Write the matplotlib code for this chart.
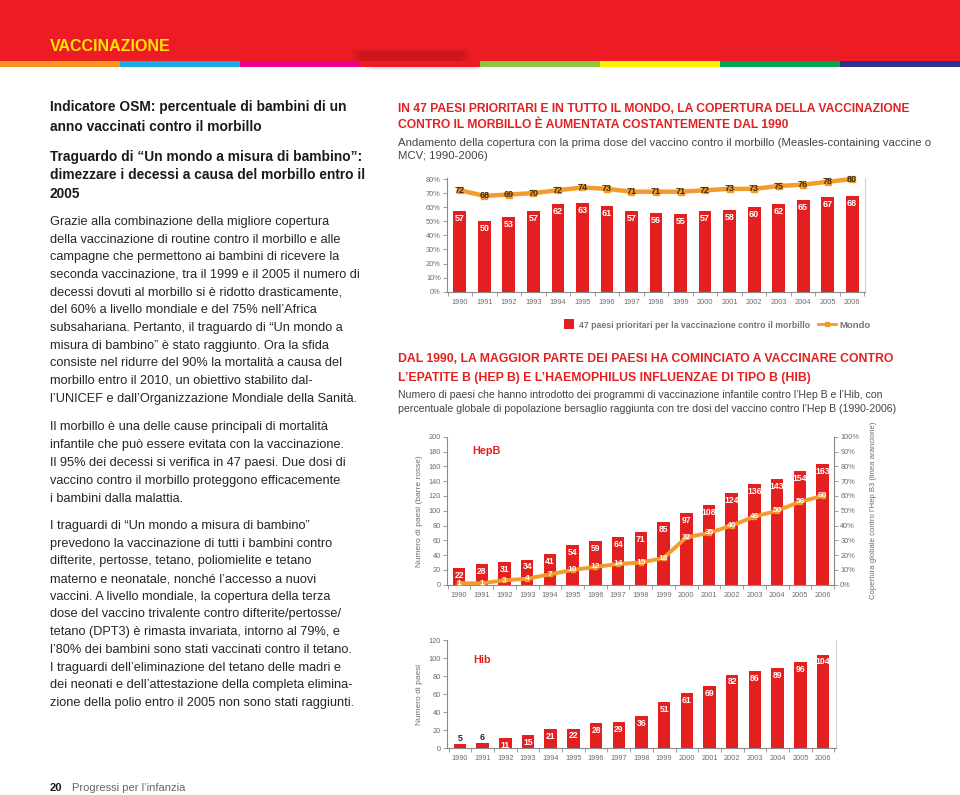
import matplotlib
matplotlib.use("Agg")
import matplotlib.pyplot as plt
from matplotlib.patches import Rectangle
from matplotlib.lines import Line2D

plt.rcParams['font.family'] = ['Liberation Sans', 'DejaVu Sans']
NARROW = ['Liberation Sans Narrow', 'Liberation Sans', 'DejaVu Sans']

# ── data ───────────────────────────────────────────────────────────────
years = ['1990', '1991', '1992', '1993', '1994', '1995', '1996', '1997', '1998',
         '1999', '2000', '2001', '2002', '2003', '2004', '2005', '2006']
measles_47 = [57, 50, 53, 57, 62, 63, 61, 57, 56, 55, 57, 58, 60, 62, 65, 67, 68]
measles_world = [72, 68, 69, 70, 72, 74, 73, 71, 71, 71, 72, 73, 73, 75, 76, 78, 80]
hepb_countries = [22, 28, 31, 34, 41, 54, 59, 64, 71, 85, 97, 108, 124, 136, 143, 154, 163]
hepb3_coverage = [1, 1, 3, 4, 7, 10, 12, 14, 15, 18, 32, 35, 40, 46, 50, 56, 60]
hib_countries = [5, 6, 11, 15, 21, 22, 28, 29, 36, 51, 61, 69, 82, 86, 89, 96, 104]

RED = '#E3201F'
ORANGE = '#F39C2C'
GRAY = '#6d6d6d'
TEXT = '#262626'

W, H = 960, 795
fig = plt.figure(figsize=(W / 100, H / 100), dpi=100)


def fx(x):
    return x / W


def fy(y):
    return 1 - y / H


def put(x, y, s, **kw):
    kw.setdefault('va', 'baseline')
    fig.text(fx(x), fy(y), s, **kw)


def box(x0, y0, x1, y1, color, **kw):
    fig.patches.append(Rectangle((fx(x0), fy(y1)), (x1 - x0) / W, (y1 - y0) / H,
                                 transform=fig.transFigure, facecolor=color,
                                 edgecolor='none', **kw))


def axes_px(x0, y0, x1, y1):
    return fig.add_axes([fx(x0), fy(y1), (x1 - x0) / W, (y1 - y0) / H])


def style_axes(ax):
    n = len(years)
    ax.spines['top'].set_visible(False)
    ax.spines['left'].set_color('#8a8a8a')
    ax.spines['bottom'].set_color('#8a8a8a')
    ax.spines['right'].set_color('#d0d0d0')
    for s in ax.spines.values():
        s.set_linewidth(0.8)
    ax.set_xticks(range(n))
    ax.set_xticklabels(years)
    ax.set_xticks([i - 0.5 for i in range(n + 1)], minor=True)
    ax.tick_params(axis='x', which='major', length=0, pad=5, labelsize=5.3, labelcolor=GRAY)
    ax.tick_params(axis='x', which='minor', length=3, color='#8a8a8a', width=0.6)
    ax.tick_params(axis='y', length=3, color='#8a8a8a', width=0.6, labelsize=5.3,
                   labelcolor=GRAY, pad=1.5)
    for lab in ax.get_xticklabels() + ax.get_yticklabels():
        lab.set_family(NARROW)


# ── header band ────────────────────────────────────────────────────────
box(0, 0, 960, 61, '#ED1C24')
# soft shadow of the tab above the red stripe segment
for k in range(4):
    box(352 + k * 3, 49 + k, 470 - k * 3, 61, '#8E1015', alpha=0.1)
for k in range(3):
    box(366 + k * 3, 67, 482 - k * 3, 70 - k, '#999999', alpha=0.12)
stripe = ['#F7941D', '#1CA9E1', '#EC008C', '#ED1C24', '#8DC63F', '#FFF200', '#00A651', '#2E3192']
for i, c in enumerate(stripe):
    box(i * 120, 61, (i + 1) * 120, 67, c)
put(50, 51, 'VACCINAZIONE', color='#FFE600', fontsize=11.5, fontweight='bold')

# ── left column ────────────────────────────────────────────────────────
heads = [(111, 'Indicatore OSM: percentuale di bambini di un'),
         (131, 'anno vaccinati contro il morbillo'),
         (161, 'Traguardo di “Un mondo a misura di bambino”:'),
         (179, 'dimezzare i decessi a causa del morbillo entro il'),
         (197.5, '2005')]
for y, s in heads:
    put(50, y, s, fontsize=9.9, fontweight='bold', color='#1a1a1a')

para1 = ['Grazie alla combinazione della migliore copertura',
         'della vaccinazione di routine contro il morbillo e alle',
         'campagne che permettono ai bambini di ricevere la',
         'seconda vaccinazione, tra il 1999 e il 2005 il numero di',
         'decessi dovuti al morbillo si è ridotto drasticamente,',
         'del 60% a livello mondiale e del 75% nell’Africa',
         'subsahariana. Pertanto, il traguardo di “Un mondo a',
         'misura di bambino” è stato raggiunto. Ora la sfida',
         'consiste nel ridurre del 90% la mortalità a causa del',
         'morbillo entro il 2010, un obiettivo stabilito dal-',
         'l’UNICEF e dall’Organizzazione Mondiale della Sanità.']
para2 = ['Il morbillo è una delle cause principali di mortalità',
         'infantile che può essere evitata con la vaccinazione.',
         'Il 95% dei decessi si verifica in 47 paesi. Due dosi di',
         'vaccino contro il morbillo proteggono efficacemente',
         'i bambini dalla malattia.']
para3 = ['I traguardi di “Un mondo a misura di bambino”',
         'prevedono la vaccinazione di tutti i bambini contro',
         'difterite, pertosse, tetano, poliomielite e tetano',
         'materno e neonatale, nonché l’accesso a nuovi',
         'vaccini. A livello mondiale, la copertura della terza',
         'dose del vaccino trivalente contro difterite/pertosse/',
         'tetano (DPT3) è rimasta invariata, intorno al 79%, e',
         'l’80% dei bambini sono stati vaccinati contro il tetano.',
         'I traguardi dell’eliminazione del tetano delle madri e',
         'dei neonati e dell’attestazione della completa elimina-',
         'zione della polio entro il 2005 non sono stati raggiunti.']
for lines, y0, step in [(para1, 225, 17.66), (para2, 430, 17.9), (para3, 529, 17.7)]:
    for k, s in enumerate(lines):
        put(50, y0 + k * step, s, fontsize=9.2, color=TEXT)

put(50, 791, '20', fontsize=8, fontweight='bold', color='#1a1a1a')
put(72, 791, 'Progressi per l’infanzia', fontsize=8, color='#666666')

# ── right column titles ────────────────────────────────────────────────
put(398, 111.7, 'IN 47 PAESI PRIORITARI E IN TUTTO IL MONDO, LA COPERTURA DELLA VACCINAZIONE',
    fontsize=8.75, fontweight='bold', color=RED, family=NARROW)
put(398, 128.3, 'CONTRO IL MORBILLO È AUMENTATA COSTANTEMENTE DAL 1990',
    fontsize=8.75, fontweight='bold', color=RED, family=NARROW)
put(398, 145.5, 'Andamento della copertura con la prima dose del vaccino contro il morbillo '
                '(Measles-containing vaccine o', fontsize=8.2, color='#444444')
put(398, 159, 'MCV; 1990-2006)', fontsize=8.2, color='#444444')

put(398, 362.5, 'DAL 1990, LA MAGGIOR PARTE DEI PAESI HA COMINCIATO A VACCINARE CONTRO',
    fontsize=8.85, fontweight='bold', color=RED, family=NARROW)
put(398, 380.5, 'L’EPATITE B (HEP B) E L’HAEMOPHILUS INFLUENZAE DI TIPO B (HIB)',
    fontsize=8.85, fontweight='bold', color=RED, family=NARROW)
put(398, 398.5, 'Numero di paesi che hanno introdotto dei programmi di vaccinazione infantile '
                'contro l’Hep B e l’Hib, con', fontsize=7.6, color='#444444')
put(398, 412, 'percentuale globale di popolazione bersaglio raggiunta con tre dosi del vaccino '
              'contro l’Hep B (1990-2006)', fontsize=7.6, color='#444444')

# ── chart 1: measles coverage ──────────────────────────────────────────
x = list(range(len(years)))
ax1 = axes_px(447, 177.6, 865, 291.7)
ax1.bar(x, measles_47, width=0.53, color=RED, zorder=2)
ax1.plot(x, measles_world, color=ORANGE, lw=3.2, marker='s', ms=4.5, zorder=3, clip_on=False)
for i, v in enumerate(measles_47):
    ax1.annotate(str(v), (i, v), xytext=(0, -2.2), textcoords='offset points',
                 ha='center', va='top', fontsize=6.5, fontweight='bold', color='white', zorder=4)
for i, v in enumerate(measles_world):
    ax1.text(i, v, str(v), ha='center', va='center', fontsize=6.5, fontweight='bold',
             color='#3d2b12', zorder=5)
ax1.set_xlim(-0.53, 16.53)
ax1.set_ylim(0, 81)
ax1.set_yticks(range(0, 81, 10))
ax1.set_yticklabels([f'{t}%' for t in range(0, 81, 10)])
style_axes(ax1)

# legend
box(564, 319, 574, 329, RED)
put(579, 327.5, '47 paesi prioritari per la vaccinazione contro il morbillo',
    fontsize=6.3, fontweight='bold', color='#777777', family=NARROW)
fig.lines.append(Line2D([fx(818), fx(836)], [fy(324), fy(324)], transform=fig.transFigure,
                        color=ORANGE, lw=2))
fig.lines.append(Line2D([fx(827)], [fy(324)], transform=fig.transFigure,
                        color=ORANGE, marker='s', ms=3.5, lw=0))
put(839, 327.5, 'Mondo', fontsize=6.8, fontweight='bold', color='#777777', family=NARROW)

# ── chart 2: HepB ──────────────────────────────────────────────────────
ax2 = axes_px(447, 436.7, 834, 584.7)
ax2.bar(x, hepb_countries, width=0.55, color=RED, zorder=2)
for i, v in enumerate(hepb_countries):
    ax2.annotate(str(v), (i, v), xytext=(0, -2), textcoords='offset points',
                 ha='center', va='top', fontsize=6.2, fontweight='bold', color='white')
ax2.set_xlim(-0.53, 16.5)
ax2.set_ylim(0, 200)
ax2.set_yticks(range(0, 201, 20))
style_axes(ax2)
ax2.text(0.6, 180, 'HepB', fontsize=7.8, fontweight='bold', color=RED, va='center')
ax2.set_ylabel('Numero di paesi (barre rosse)', fontsize=6, color=GRAY, labelpad=4)

ax2r = ax2.twinx()
ax2r.plot(x, hepb3_coverage, color=ORANGE, lw=2.8, marker='s', ms=3, zorder=3)
for i, v in enumerate(hepb3_coverage):
    ax2r.text(i, v, str(v), ha='center', va='center', fontsize=6, fontweight='bold',
              color='white', zorder=5)
ax2r.set_ylim(0, 100)
ax2r.set_yticks(range(0, 101, 10))
ax2r.set_yticklabels([f'{t}%' for t in range(0, 101, 10)])
for s in ['top', 'left', 'bottom']:
    ax2r.spines[s].set_visible(False)
ax2r.spines['right'].set_color('#8a8a8a')
ax2r.spines['right'].set_linewidth(0.8)
ax2r.tick_params(axis='y', length=3, color='#8a8a8a', width=0.6, labelsize=5.3,
                 labelcolor=GRAY, pad=1.5)
for lab in ax2r.get_yticklabels():
    lab.set_family(NARROW)
ax2r.set_ylabel('Copertura globale contro l’Hep B3 (linea arancione)', fontsize=5.6,
                color=GRAY, labelpad=8)

# ── chart 3: Hib ───────────────────────────────────────────────────────
ax3 = axes_px(447, 640.3, 835.7, 748.3)
ax3.bar(x, hib_countries, width=0.55, color=RED, zorder=2)
for i, v in enumerate(hib_countries):
    if v < 10:
        ax3.annotate(str(v), (i, v), xytext=(0, 0.5), textcoords='offset points',
                     ha='center', va='bottom', fontsize=6.5, fontweight='bold', color='#2b2b2b')
    else:
        ax3.annotate(str(v), (i, v), xytext=(0, -2), textcoords='offset points',
                     ha='center', va='top', fontsize=6.2, fontweight='bold', color='white')
ax3.set_xlim(-0.57, 16.56)
ax3.set_ylim(0, 120)
ax3.set_yticks(range(0, 121, 20))
style_axes(ax3)
ax3.text(0.6, 98, 'Hib', fontsize=7.8, fontweight='bold', color=RED, va='center')
ax3.set_ylabel('Numero di paesi', fontsize=6, color=GRAY, labelpad=4)

fig.savefig('out.png', dpi=100)
